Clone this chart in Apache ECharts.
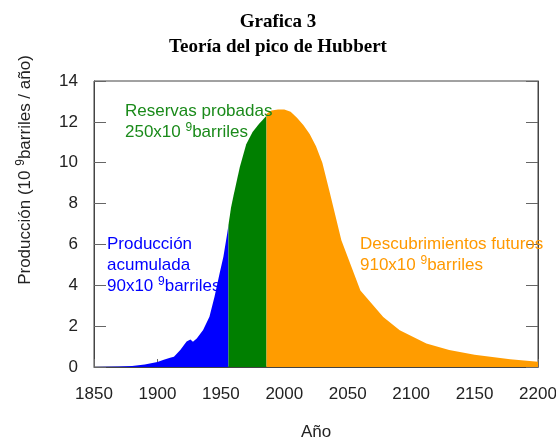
<!DOCTYPE html>
<html>
<head>
<meta charset="utf-8">
<script src="https://cdn.jsdelivr.net/npm/echarts@6/dist/echarts.min.js"></script>
<style>
  html, body { margin: 0; padding: 0; background: #fff; }
  #main { width: 556px; height: 438px; }
</style>
</head>
<body>
<div id="main"></div>
<script>
// produccion acumulada (azul)
const prodYears  = [1850, 1860, 1870, 1880, 1890, 1900, 1905, 1910, 1913, 1918, 1923, 1926, 1928, 1931, 1936, 1941, 1945, 1949, 1952, 1955, 1956]
const prodValues = [0, 0.01, 0.02, 0.05, 0.12, 0.25, 0.35, 0.45, 0.5, 0.83, 1.25, 1.35, 1.24, 1.4, 1.81, 2.46, 3.44, 4.58, 5.4, 6.54, 6.95]
// reservas probadas (verde)
const resYears  = [1956, 1958, 1960, 1965, 1970, 1975, 1980, 1986]
const resValues = [6.95, 7.8, 8.4, 9.8, 10.9, 11.5, 11.9, 12.3]
// descubrimientos futuros (naranja)
const futYears  = [1986, 1990, 1995, 2000, 2005, 2010, 2015, 2020, 2025, 2030, 2036, 2045, 2060, 2078, 2091, 2112, 2130, 2150, 2178, 2200]
const futValues = [12.4, 12.55, 12.6, 12.6, 12.5, 12.2, 11.85, 11.4, 10.8, 10.0, 8.5, 6.2, 3.75, 2.45, 1.8, 1.15, 0.83, 0.6, 0.38, 0.26]

const zip = (xs, ys) => xs.map((x, i) => [x, ys[i]])

const myCharts = echarts.init(document.getElementById('main'))

const areaSeries = (name, data, color) => ({
  name: name,
  type: 'line',
  data: data,
  symbol: 'none',
  lineStyle: { width: 0, color: color },
  areaStyle: { color: color, opacity: 1 },
  itemStyle: { color: color },
  silent: true,
  animation: false
})

const sup = { fontSize: 12, verticalAlign: 'top', padding: [0, 0, 9, 0] }
const labelFont = { fontFamily: 'Liberation Sans', fontSize: 17, color: '#222' }

const option = {
  animation: false,
  title: {
    text: 'Grafica 3\nTeoría del pico de Hubbert',
    left: 'center',
    top: 5,
    textStyle: {
      fontFamily: 'Liberation Serif',
      fontWeight: 'bold',
      fontSize: 19,
      color: '#000',
      lineHeight: 25
    }
  },
  grid: {
    left: 94, right: 18, top: 81, bottom: 71,
    outerBoundsMode: 'none',
    containLabel: false,
    show: true, borderColor: '#444', borderWidth: 1
  },
  xAxis: {
    type: 'value',
    min: 1850, max: 2200, interval: 50,
    name: 'Año',
    nameLocation: 'middle',
    nameGap: 57,
    nameTextStyle: labelFont,
    axisLine: { lineStyle: { color: '#444' } },
    axisTick: { inside: true, length: 8, lineStyle: { color: '#666' } },
    axisLabel: Object.assign({ margin: 19, formatter: v => String(v) }, labelFont),
    splitLine: { show: false }
  },
  yAxis: [
    {
      type: 'value',
      min: 0, max: 14, interval: 2,
      axisLine: { show: true, lineStyle: { color: '#444' } },
      axisTick: { show: true, inside: true, length: 12, lineStyle: { color: '#666' } },
      axisLabel: Object.assign({ margin: 16 }, labelFont),
      splitLine: { show: false }
    },
    {
      type: 'value',
      position: 'right',
      min: 0, max: 14, interval: 2,
      axisLine: { show: true, lineStyle: { color: '#444' } },
      axisTick: { show: true, inside: true, length: 12, lineStyle: { color: '#666' } },
      axisLabel: { show: false },
      splitLine: { show: false }
    }
  ],
  graphic: [
    {
      type: 'text',
      x: 25, y: 170,
      rotation: Math.PI / 2,
      style: {
        text: 'Producción (10 {s|9}barriles / año)',
        rich: { s: sup },
        fontFamily: 'Liberation Sans', fontSize: 17, fill: '#222',
        align: 'center', verticalAlign: 'middle'
      }
    },
    {
      type: 'text', x: 107, y: 234, z: 10,
      style: {
        text: 'Producción\nacumulada\n90x10 {s|9}barriles',
        rich: { s: sup },
        fontFamily: 'Liberation Sans', fontSize: 17, lineHeight: 21, fill: '#0000ff'
      }
    },
    {
      type: 'text', x: 125, y: 101, z: 10,
      style: {
        text: 'Reservas probadas\n250x10 {s|9}barriles',
        rich: { s: sup },
        fontFamily: 'Liberation Sans', fontSize: 17, lineHeight: 21, fill: '#1a8a1a'
      }
    },
    {
      type: 'text', x: 360, y: 234, z: 10,
      style: {
        text: 'Descubrimientos futuros\n910x10 {s|9}barriles',
        rich: { s: sup },
        fontFamily: 'Liberation Sans', fontSize: 17, lineHeight: 21, fill: '#ff9900'
      }
    }
  ],
  series: [
    areaSeries('Producción acumulada', zip(prodYears, prodValues), '#0000ff'),
    areaSeries('Reservas probadas', zip(resYears, resValues), '#007f00'),
    areaSeries('Descubrimientos futuros', zip(futYears, futValues), '#ff9c00')
  ]
}

myCharts.setOption(option)
</script>
</body>
</html>
